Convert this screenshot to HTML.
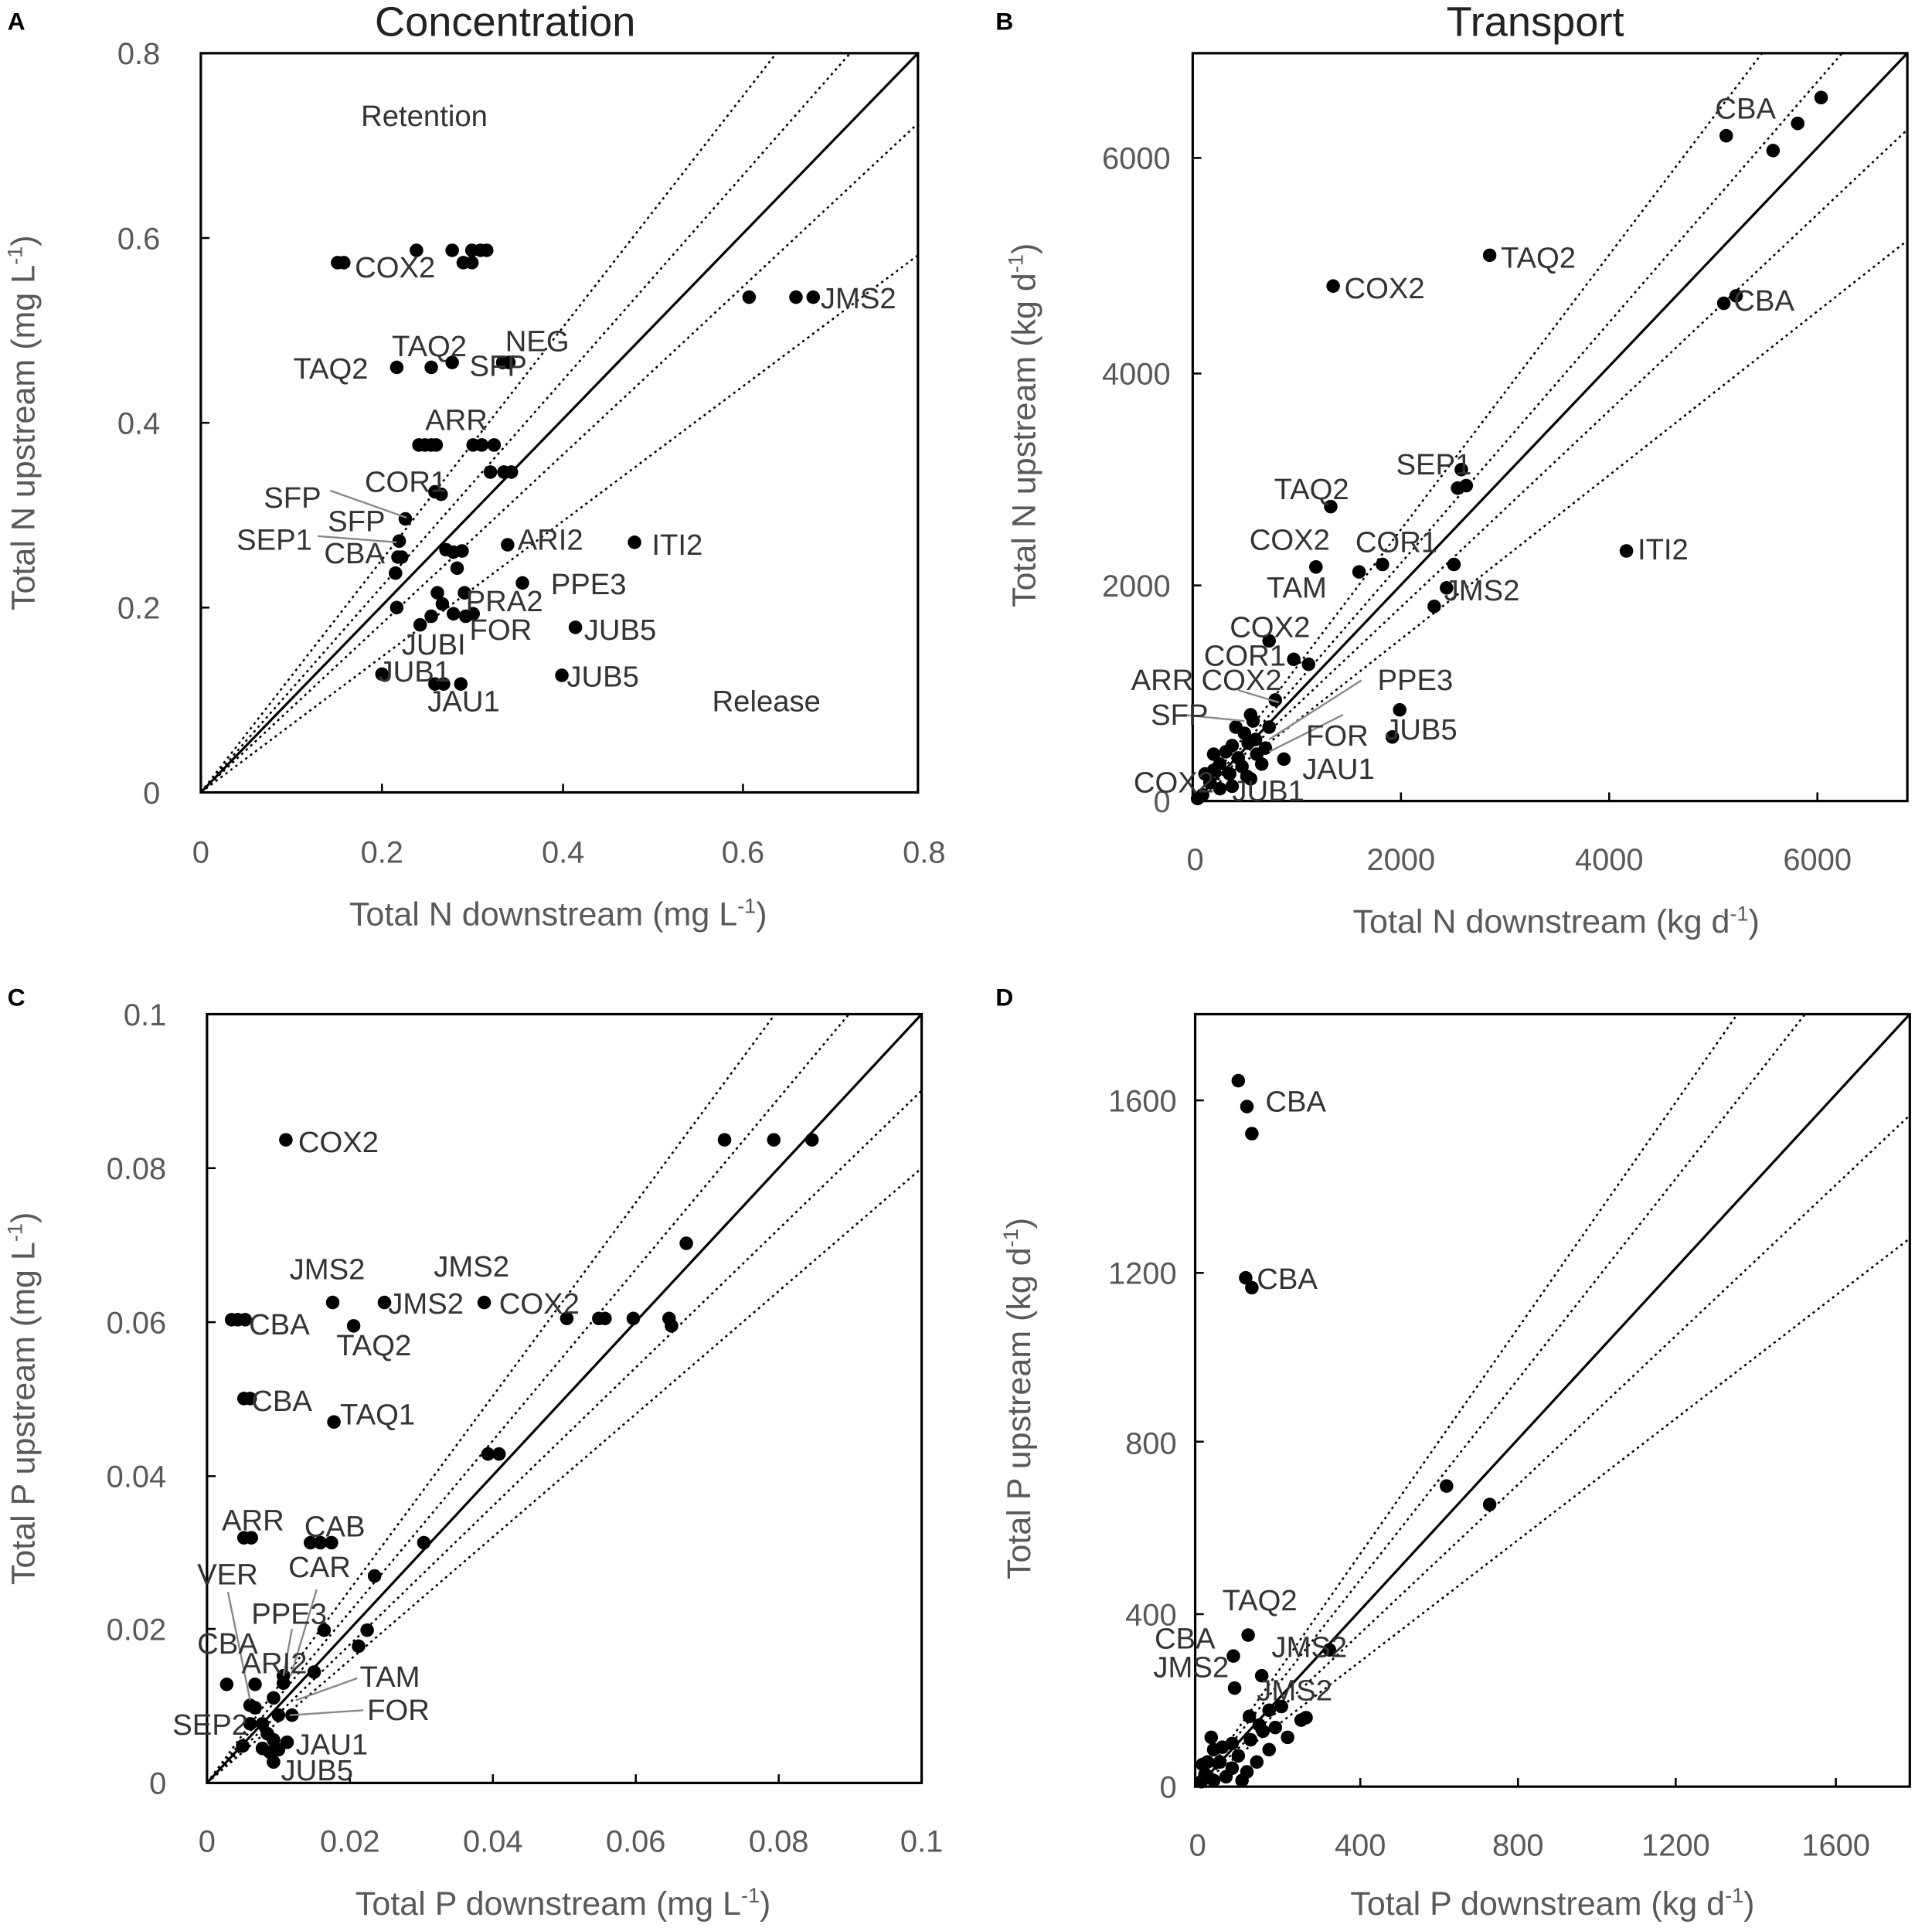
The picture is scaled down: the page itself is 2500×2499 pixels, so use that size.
<!DOCTYPE html>
<html><head><meta charset="utf-8"><style>
html,body{margin:0;padding:0;background:#fff}
svg{display:block}
text{font-family:"Liberation Sans",sans-serif}
.t{font-size:25px;fill:#595959}
.at{font-size:27px;fill:#595959}
.l{font-size:24px;fill:#333}
.pl{font-size:20px;font-weight:bold;fill:#000}
.ti{font-size:34px;fill:#222}
.d{stroke:#000;stroke-width:1.6;stroke-dasharray:2,3;fill:none}
.s{stroke:#000;stroke-width:2;fill:none}
.k{stroke:#000;stroke-width:1.6}
.g{stroke:#888;stroke-width:1.5;fill:none}
circle{fill:#000}
</style></head><body>
<svg width="2500" height="2499" viewBox="0 0 1568 1567" xmlns="http://www.w3.org/2000/svg">
<rect width="1568" height="1567" fill="#fff"/>
<text class="pl" x="6" y="24">A</text><text class="pl" x="808" y="24">B</text>
<text class="pl" x="6" y="816">C</text><text class="pl" x="808" y="816">D</text>
<text class="ti" x="410" y="29" text-anchor="middle">Concentration</text>
<text class="ti" x="1246" y="29" text-anchor="middle">Transport</text>

<!-- Panel A -->
<rect x="163" y="43" width="582" height="600" class="s"/>
<line x1="163" y1="643" x2="745" y2="43" class="s"/>
<line x1="163" y1="643" x2="630" y2="43" class="d"/>
<line x1="163" y1="643" x2="690" y2="43" class="d"/>
<line x1="163" y1="643" x2="745" y2="100" class="d"/>
<line x1="163" y1="643" x2="745" y2="207" class="d"/>
<g class="k"><line x1="310" y1="643" x2="310" y2="636"/><line x1="457" y1="643" x2="457" y2="636"/><line x1="603" y1="643" x2="603" y2="636"/><line x1="163" y1="493" x2="170" y2="493"/><line x1="163" y1="343" x2="170" y2="343"/><line x1="163" y1="193" x2="170" y2="193"/></g>
<g class="t" text-anchor="end"><text x="130" y="652">0</text><text x="130" y="502">0.2</text><text x="130" y="352">0.4</text><text x="130" y="202">0.6</text><text x="130" y="52">0.8</text></g>
<g class="t" text-anchor="middle"><text x="163" y="700">0</text><text x="310" y="700">0.2</text><text x="457" y="700">0.4</text><text x="603" y="700">0.6</text><text x="750" y="700">0.8</text></g>
<text class="at" x="453" y="751" text-anchor="middle">Total N downstream (mg L<tspan dy="-10" font-size="17">-1</tspan><tspan dy="10">)</tspan></text>
<text class="at" transform="translate(28,343) rotate(-90)" text-anchor="middle">Total N upstream (mg L<tspan dy="-10" font-size="17">-1</tspan><tspan dy="10">)</tspan></text>
<g>
<circle cx="274" cy="213" r="5.5"/><circle cx="279" cy="213" r="5.5"/><circle cx="338" cy="203" r="5.5"/><circle cx="367" cy="203" r="5.5"/><circle cx="383" cy="203" r="5.5"/><circle cx="390" cy="203" r="5.5"/><circle cx="395" cy="203" r="5.5"/><circle cx="376" cy="213" r="5.5"/><circle cx="383" cy="213" r="5.5"/>
<circle cx="322" cy="298" r="5.5"/><circle cx="350" cy="298" r="5.5"/><circle cx="367" cy="294" r="5.5"/><circle cx="408" cy="294" r="5.5"/><circle cx="413" cy="294" r="5.5"/>
<circle cx="340" cy="361" r="5.5"/><circle cx="345" cy="361" r="5.5"/><circle cx="350" cy="361" r="5.5"/><circle cx="354" cy="361" r="5.5"/><circle cx="384" cy="361" r="5.5"/><circle cx="391" cy="361" r="5.5"/><circle cx="401" cy="361" r="5.5"/>
<circle cx="398" cy="383" r="5.5"/><circle cx="409" cy="383" r="5.5"/><circle cx="415" cy="383" r="5.5"/><circle cx="353" cy="399" r="5.5"/><circle cx="358" cy="401" r="5.5"/>
<circle cx="329" cy="421" r="5.5"/><circle cx="324" cy="439" r="5.5"/><circle cx="323" cy="452" r="5.5"/><circle cx="326" cy="452" r="5.5"/><circle cx="321" cy="465" r="5.5"/>
<circle cx="362" cy="446" r="5.5"/><circle cx="368" cy="448" r="5.5"/><circle cx="375" cy="447" r="5.5"/><circle cx="371" cy="461" r="5.5"/><circle cx="412" cy="442" r="5.5"/><circle cx="515" cy="440" r="5.5"/><circle cx="424" cy="473" r="5.5"/>
<circle cx="355" cy="481" r="5.5"/><circle cx="377" cy="481" r="5.5"/><circle cx="359" cy="490" r="5.5"/><circle cx="368" cy="498" r="5.5"/><circle cx="384" cy="498" r="5.5"/><circle cx="322" cy="493" r="5.5"/><circle cx="341" cy="507" r="5.5"/><circle cx="350" cy="500" r="5.5"/><circle cx="378" cy="500" r="5.5"/><circle cx="467" cy="509" r="5.5"/>
<circle cx="310" cy="547" r="5.5"/><circle cx="353" cy="555" r="5.5"/><circle cx="360" cy="555" r="5.5"/><circle cx="374" cy="555" r="5.5"/><circle cx="456" cy="548" r="5.5"/>
<circle cx="608" cy="241" r="5.5"/><circle cx="646" cy="241" r="5.5"/><circle cx="660" cy="241" r="5.5"/>
</g>
<line x1="268" y1="398" x2="330" y2="420" class="g"/><line x1="258" y1="435" x2="322" y2="440" class="g"/>
<g class="l">
<text x="288" y="225">COX2</text><text x="318" y="289">TAQ2</text><text x="238" y="307">TAQ2</text><text x="410" y="285">NEG</text><text x="381" y="305">SFP</text><text x="345" y="349">ARR</text><text x="296" y="399">COR1</text><text x="214" y="412">SFP</text><text x="266" y="431">SFP</text><text x="192" y="446">SEP1</text><text x="263" y="457">CBA</text><text x="420" y="446">ARI2</text><text x="529" y="450">ITI2</text><text x="447" y="482">PPE3</text><text x="378" y="496">PRA2</text><text x="381" y="519">FOR</text><text x="326" y="531">JUBI</text><text x="474" y="519">JUB5</text><text x="460" y="557">JUB5</text><text x="307" y="553">JUB1</text><text x="347" y="577">JAU1</text><text x="666" y="250">JMS2</text><text x="293" y="102">Retention</text><text x="578" y="577">Release</text>
</g>

<!-- Panel B -->
<rect x="968" y="43" width="580" height="607" class="s"/>
<line x1="970" y1="650" x2="1548" y2="43" class="s"/>
<line x1="970" y1="650" x2="1430" y2="43" class="d"/>
<line x1="970" y1="650" x2="1495" y2="43" class="d"/>
<line x1="970" y1="650" x2="1548" y2="105" class="d"/>
<line x1="970" y1="650" x2="1548" y2="195" class="d"/>
<g class="k"><line x1="1137" y1="650" x2="1137" y2="643"/><line x1="1306" y1="650" x2="1306" y2="643"/><line x1="1475" y1="650" x2="1475" y2="643"/><line x1="968" y1="475" x2="975" y2="475"/><line x1="968" y1="303" x2="975" y2="303"/><line x1="968" y1="128" x2="975" y2="128"/></g>
<g class="t" text-anchor="end"><text x="950" y="659">0</text><text x="950" y="484">2000</text><text x="950" y="312">4000</text><text x="950" y="137">6000</text></g>
<g class="t" text-anchor="middle"><text x="970" y="706">0</text><text x="1137" y="706">2000</text><text x="1306" y="706">4000</text><text x="1475" y="706">6000</text></g>
<text class="at" x="1263" y="757" text-anchor="middle">Total N downstream (kg d<tspan dy="-10" font-size="17">-1</tspan><tspan dy="10">)</tspan></text>
<text class="at" transform="translate(840,345) rotate(-90)" text-anchor="middle">Total N upstream (kg d<tspan dy="-10" font-size="17">-1</tspan><tspan dy="10">)</tspan></text>
<g>
<circle cx="1478" cy="79" r="5.5"/><circle cx="1401" cy="110" r="5.5"/><circle cx="1459" cy="100" r="5.5"/><circle cx="1439" cy="122" r="5.5"/><circle cx="1209" cy="207" r="5.5"/><circle cx="1082" cy="232" r="5.5"/><circle cx="1399" cy="246" r="5.5"/><circle cx="1409" cy="240" r="5.5"/><circle cx="1320" cy="447" r="5.5"/>
<circle cx="1186" cy="381" r="5.5"/><circle cx="1190" cy="394" r="5.5"/><circle cx="1183" cy="396" r="5.5"/><circle cx="1080" cy="411" r="5.5"/><circle cx="1068" cy="460" r="5.5"/><circle cx="1103" cy="464" r="5.5"/><circle cx="1122" cy="458" r="5.5"/><circle cx="1180" cy="458" r="5.5"/><circle cx="1174" cy="477" r="5.5"/><circle cx="1164" cy="492" r="5.5"/>
<circle cx="1030" cy="520" r="5.5"/><circle cx="1050" cy="535" r="5.5"/><circle cx="1062" cy="539" r="5.5"/><circle cx="1035" cy="568" r="5.5"/><circle cx="1015" cy="580" r="5.5"/><circle cx="1017" cy="585" r="5.5"/><circle cx="1136" cy="576" r="5.5"/><circle cx="1130" cy="598" r="5.5"/><circle cx="1042" cy="616" r="5.5"/><circle cx="1013" cy="603" r="5.5"/><circle cx="1000" cy="605" r="5.5"/>
<circle cx="1010" cy="595" r="5.5"/><circle cx="995" cy="610" r="5.5"/><circle cx="1005" cy="615" r="5.5"/><circle cx="1020" cy="612" r="5.5"/><circle cx="990" cy="620" r="5.5"/><circle cx="985" cy="625" r="5.5"/><circle cx="998" cy="628" r="5.5"/><circle cx="1012" cy="630" r="5.5"/><circle cx="978" cy="628" r="5.5"/><circle cx="982" cy="635" r="5.5"/><circle cx="990" cy="640" r="5.5"/><circle cx="976" cy="645" r="5.5"/><circle cx="972" cy="648" r="5.5"/><circle cx="1000" cy="638" r="5.5"/><circle cx="1008" cy="622" r="5.5"/><circle cx="1027" cy="607" r="5.5"/><circle cx="1015" cy="632" r="5.5"/><circle cx="1024" cy="620" r="5.5"/><circle cx="1030" cy="590" r="5.5"/><circle cx="1003" cy="590" r="5.5"/><circle cx="985" cy="612" r="5.5"/><circle cx="1019" cy="600" r="5.5"/>
</g>
<line x1="1105" y1="552" x2="1030" y2="600" class="g"/><line x1="1005" y1="560" x2="1038" y2="570" class="g"/><line x1="960" y1="580" x2="1010" y2="585" class="g"/><line x1="1090" y1="580" x2="1030" y2="610" class="g"/>
<g class="l">
<text x="1392" y="96">CBA</text><text x="1218" y="217">TAQ2</text><text x="1091" y="242">COX2</text><text x="1407" y="252">CBA</text><text x="1133" y="385">SEP1</text><text x="1034" y="405">TAQ2</text><text x="1100" y="448">COR1</text><text x="1014" y="446">COX2</text><text x="1028" y="485">TAM</text><text x="1329" y="454">ITI2</text><text x="1172" y="487">JMS2</text><text x="998" y="517">COX2</text><text x="977" y="540">COR1</text><text x="918" y="560">ARR</text><text x="975" y="560">COX2</text><text x="1118" y="560">PPE3</text><text x="934" y="588">SFP</text><text x="1060" y="605">FOR</text><text x="1124" y="600">JUB5</text><text x="920" y="643">COX2</text><text x="1057" y="632">JAU1</text><text x="1000" y="650">JUB1</text>
</g>

<!-- Panel C -->
<rect x="168" y="823" width="580" height="624" class="s"/>
<line x1="168" y1="1447" x2="748" y2="823" class="s"/>
<line x1="168" y1="1447" x2="629" y2="823" class="d"/>
<line x1="168" y1="1447" x2="689" y2="823" class="d"/>
<line x1="168" y1="1447" x2="748" y2="885" class="d"/>
<line x1="168" y1="1447" x2="748" y2="948" class="d"/>
<g class="k"><line x1="284" y1="1447" x2="284" y2="1440"/><line x1="400" y1="1447" x2="400" y2="1440"/><line x1="516" y1="1447" x2="516" y2="1440"/><line x1="632" y1="1447" x2="632" y2="1440"/><line x1="168" y1="1322" x2="175" y2="1322"/><line x1="168" y1="1198" x2="175" y2="1198"/><line x1="168" y1="1073" x2="175" y2="1073"/><line x1="168" y1="948" x2="175" y2="948"/></g>
<g class="t" text-anchor="end"><text x="135" y="1456">0</text><text x="135" y="1331">0.02</text><text x="135" y="1207">0.04</text><text x="135" y="1082">0.06</text><text x="135" y="957">0.08</text><text x="135" y="832">0.1</text></g>
<g class="t" text-anchor="middle"><text x="168" y="1503">0</text><text x="284" y="1503">0.02</text><text x="400" y="1503">0.04</text><text x="516" y="1503">0.06</text><text x="632" y="1503">0.08</text><text x="748" y="1503">0.1</text></g>
<text class="at" x="457" y="1554" text-anchor="middle">Total P downstream (mg L<tspan dy="-10" font-size="17">-1</tspan><tspan dy="10">)</tspan></text>
<text class="at" transform="translate(28,1135) rotate(-90)" text-anchor="middle">Total P upstream (mg L<tspan dy="-10" font-size="17">-1</tspan><tspan dy="10">)</tspan></text>
<g>
<circle cx="232" cy="925" r="5.5"/><circle cx="588" cy="925" r="5.5"/><circle cx="628" cy="925" r="5.5"/><circle cx="659" cy="925" r="5.5"/><circle cx="557" cy="1009" r="5.5"/>
<circle cx="188" cy="1071" r="5.5"/><circle cx="193" cy="1071" r="5.5"/><circle cx="199" cy="1071" r="5.5"/><circle cx="270" cy="1057" r="5.5"/><circle cx="312" cy="1057" r="5.5"/><circle cx="393" cy="1057" r="5.5"/><circle cx="287" cy="1076" r="5.5"/>
<circle cx="460" cy="1070" r="5.5"/><circle cx="486" cy="1070" r="5.5"/><circle cx="491" cy="1070" r="5.5"/><circle cx="514" cy="1070" r="5.5"/><circle cx="543" cy="1070" r="5.5"/><circle cx="545" cy="1076" r="5.5"/>
<circle cx="198" cy="1135" r="5.5"/><circle cx="203" cy="1135" r="5.5"/><circle cx="271" cy="1154" r="5.5"/><circle cx="396" cy="1180" r="5.5"/><circle cx="405" cy="1180" r="5.5"/>
<circle cx="198" cy="1248" r="5.5"/><circle cx="204" cy="1248" r="5.5"/><circle cx="252" cy="1252" r="5.5"/><circle cx="260" cy="1252" r="5.5"/><circle cx="269" cy="1252" r="5.5"/><circle cx="344" cy="1252" r="5.5"/><circle cx="304" cy="1279" r="5.5"/>
<circle cx="263" cy="1323" r="5.5"/><circle cx="298" cy="1323" r="5.5"/><circle cx="291" cy="1336" r="5.5"/><circle cx="230" cy="1360" r="5.5"/><circle cx="255" cy="1357" r="5.5"/><circle cx="184" cy="1367" r="5.5"/><circle cx="207" cy="1367" r="5.5"/><circle cx="230" cy="1366" r="5.5"/>
<circle cx="203" cy="1384" r="5.5"/><circle cx="207" cy="1386" r="5.5"/><circle cx="222" cy="1378" r="5.5"/><circle cx="226" cy="1392" r="5.5"/><circle cx="237" cy="1392" r="5.5"/><circle cx="203" cy="1399" r="5.5"/><circle cx="213" cy="1399" r="5.5"/><circle cx="217" cy="1407" r="5.5"/><circle cx="222" cy="1412" r="5.5"/><circle cx="213" cy="1419" r="5.5"/><circle cx="219" cy="1422" r="5.5"/><circle cx="226" cy="1420" r="5.5"/><circle cx="233" cy="1414" r="5.5"/><circle cx="222" cy="1430" r="5.5"/><circle cx="197" cy="1417" r="5.5"/>
</g>
<line x1="185" y1="1292" x2="203" y2="1380" class="g"/><line x1="237" y1="1322" x2="230" y2="1360" class="g"/><line x1="257" y1="1290" x2="236" y2="1360" class="g"/><line x1="290" y1="1362" x2="240" y2="1380" class="g"/><line x1="295" y1="1388" x2="235" y2="1392" class="g"/>
<g class="l">
<text x="242" y="935">COX2</text><text x="235" y="1038">JMS2</text><text x="352" y="1036">JMS2</text><text x="315" y="1066">JMS2</text><text x="405" y="1066">COX2</text><text x="202" y="1083">CBA</text><text x="273" y="1100">TAQ2</text><text x="204" y="1145">CBA</text><text x="276" y="1156">TAQ1</text><text x="180" y="1242">ARR</text><text x="247" y="1247">CAB</text><text x="234" y="1280">CAR</text><text x="160" y="1286">VER</text><text x="204" y="1318">PPE3</text><text x="160" y="1342">CBA</text><text x="196" y="1358">ARI2</text><text x="292" y="1369">TAM</text><text x="298" y="1396">FOR</text><text x="140" y="1408">SEP2</text><text x="240" y="1424">JAU1</text><text x="228" y="1445">JUB5</text>
</g>

<!-- Panel D -->
<rect x="970" y="823" width="580" height="627" class="s"/>
<line x1="972" y1="1450" x2="1550" y2="823" class="s"/>
<line x1="972" y1="1450" x2="1410" y2="823" class="d"/>
<line x1="972" y1="1450" x2="1465" y2="823" class="d"/>
<line x1="972" y1="1450" x2="1550" y2="905" class="d"/>
<line x1="972" y1="1450" x2="1550" y2="1005" class="d"/>
<g class="k"><line x1="1104" y1="1450" x2="1104" y2="1443"/><line x1="1232" y1="1450" x2="1232" y2="1443"/><line x1="1360" y1="1450" x2="1360" y2="1443"/><line x1="1490" y1="1450" x2="1490" y2="1443"/><line x1="970" y1="1310" x2="977" y2="1310"/><line x1="970" y1="1170" x2="977" y2="1170"/><line x1="970" y1="1033" x2="977" y2="1033"/><line x1="970" y1="893" x2="977" y2="893"/></g>
<g class="t" text-anchor="end"><text x="955" y="1459">0</text><text x="955" y="1319">400</text><text x="955" y="1180">800</text><text x="955" y="1042">1200</text><text x="955" y="902">1600</text></g>
<g class="t" text-anchor="middle"><text x="972" y="1506">0</text><text x="1104" y="1506">400</text><text x="1232" y="1506">800</text><text x="1360" y="1506">1200</text><text x="1490" y="1506">1600</text></g>
<text class="at" x="1260" y="1554" text-anchor="middle">Total P downstream (kg d<tspan dy="-10" font-size="17">-1</tspan><tspan dy="10">)</tspan></text>
<text class="at" transform="translate(836,1135) rotate(-90)" text-anchor="middle">Total P upstream (kg d<tspan dy="-10" font-size="17">-1</tspan><tspan dy="10">)</tspan></text>
<g>
<circle cx="1005" cy="877" r="5.5"/><circle cx="1012" cy="898" r="5.5"/><circle cx="1016" cy="920" r="5.5"/><circle cx="1011" cy="1037" r="5.5"/><circle cx="1016" cy="1045" r="5.5"/><circle cx="1174" cy="1206" r="5.5"/><circle cx="1209" cy="1221" r="5.5"/>
<circle cx="1079" cy="1339" r="5.5"/><circle cx="1013" cy="1327" r="5.5"/><circle cx="1024" cy="1360" r="5.5"/><circle cx="1002" cy="1370" r="5.5"/><circle cx="1001" cy="1344" r="5.5"/>
<circle cx="1014" cy="1393" r="5.5"/><circle cx="1030" cy="1388" r="5.5"/><circle cx="1040" cy="1385" r="5.5"/><circle cx="1022" cy="1400" r="5.5"/><circle cx="1025" cy="1405" r="5.5"/><circle cx="1045" cy="1410" r="5.5"/><circle cx="1056" cy="1396" r="5.5"/><circle cx="1060" cy="1394" r="5.5"/><circle cx="1030" cy="1420" r="5.5"/>
<circle cx="985" cy="1420" r="5.5"/><circle cx="990" cy="1430" r="5.5"/><circle cx="1000" cy="1435" r="5.5"/><circle cx="978" cy="1440" r="5.5"/><circle cx="975" cy="1446" r="5.5"/><circle cx="985" cy="1445" r="5.5"/><circle cx="995" cy="1442" r="5.5"/><circle cx="1005" cy="1425" r="5.5"/><circle cx="1012" cy="1438" r="5.5"/><circle cx="1020" cy="1430" r="5.5"/><circle cx="980" cy="1430" r="5.5"/><circle cx="992" cy="1418" r="5.5"/><circle cx="1000" cy="1415" r="5.5"/><circle cx="1015" cy="1412" r="5.5"/><circle cx="1035" cy="1402" r="5.5"/><circle cx="983" cy="1410" r="5.5"/><circle cx="976" cy="1432" r="5.5"/><circle cx="1008" cy="1445" r="5.5"/>
</g>
<g class="l">
<text x="1027" y="902">CBA</text><text x="1020" y="1046">CBA</text><text x="992" y="1307">TAQ2</text><text x="937" y="1338">CBA</text><text x="1032" y="1345">JMS2</text><text x="936" y="1361">JMS2</text><text x="1020" y="1380">JMS2</text>
</g>
</svg>
</body></html>
